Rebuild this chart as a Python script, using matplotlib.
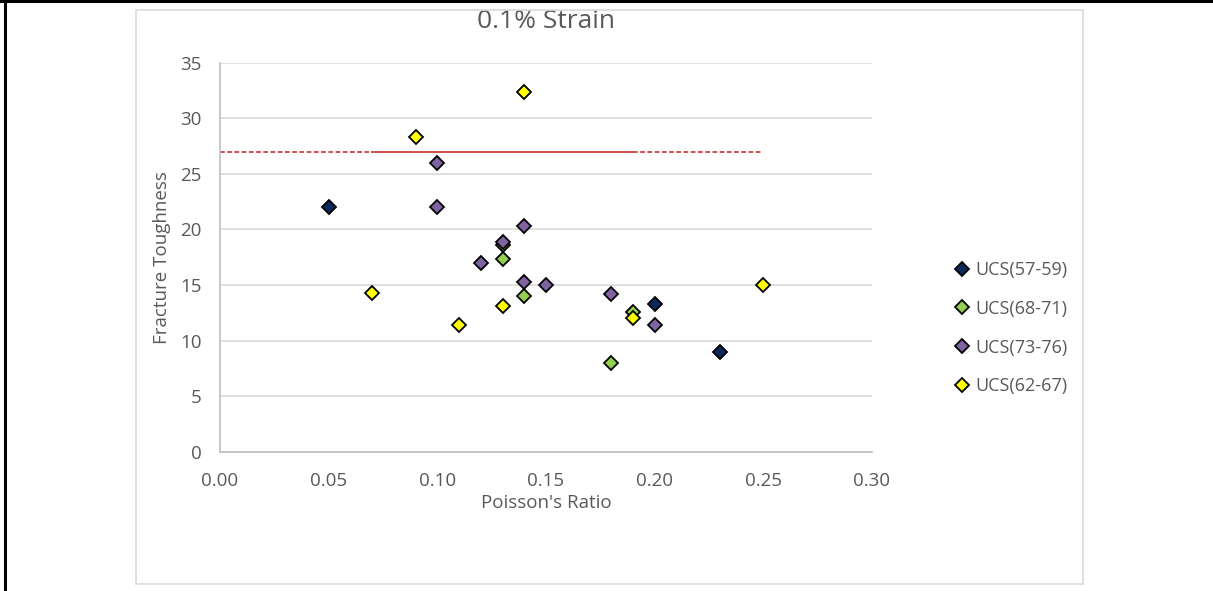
import matplotlib
matplotlib.use("Agg")
import matplotlib.pyplot as plt
from matplotlib.patches import Rectangle
from matplotlib.lines import Line2D

# Poisson's ratio / fracture toughness, grouped by UCS band
ucs_57_59_x = [0.05, 0.20, 0.23]
ucs_57_59_y = [22.0, 13.3, 9.0]

ucs_68_71_x = [0.13, 0.13, 0.14, 0.19, 0.18]
ucs_68_71_y = [18.6, 17.3, 14.0, 12.6, 8.0]

ucs_73_76_x = [0.10, 0.10, 0.14, 0.13, 0.12, 0.14, 0.15, 0.18, 0.20]
ucs_73_76_y = [26.0, 22.0, 20.3, 18.9, 17.0, 15.3, 15.0, 14.2, 11.4]

ucs_62_67_x = [0.09, 0.14, 0.07, 0.11, 0.13, 0.19, 0.25]
ucs_62_67_y = [28.3, 32.4, 14.3, 11.4, 13.1, 12.0, 15.0]

series_labels = ["UCS(57-59)", "UCS(68-71)", "UCS(73-76)", "UCS(62-67)"]
series_colors = ["#0B2A5C", "#92D050", "#8064A2", "#FFFF00"]

# Reference toughness level: solid over the core range, dashed beyond
ref_level = 27.0
ref_solid = [0.07, 0.19]
ref_dash_left = [0.0, 0.07]
ref_dash_right = [0.19, 0.25]

x_ticks = [0.00, 0.05, 0.10, 0.15, 0.20, 0.25, 0.30]
y_ticks = [0, 5, 10, 15, 20, 25, 30, 35]

plt.rcParams["font.family"] = ["Open Sans", "DejaVu Sans"]
text_gray = "#595959"

W, H = 1213, 591
fig = plt.figure(figsize=(W / 100, H / 100), dpi=100)

# Outer frame (top and left) and chart-area border
fig.add_artist(Line2D([0.0, 1.0], [0.998, 0.998], transform=fig.transFigure,
                      color="black", lw=2.2))
fig.add_artist(Line2D([5 / W, 5 / W], [0.0, 1.0], transform=fig.transFigure,
                      color="black", lw=2.2))
fig.add_artist(Rectangle((136 / W, (H - 584) / H), (1083 - 136) / W,
                         (584 - 10) / H, transform=fig.transFigure,
                         fill=False, edgecolor="#D9D9D9", lw=1.2))

ax = fig.add_axes([220 / W, (H - 451.7) / H, 652 / W, 389 / H])

ax.set_xlim(0, 0.30)
ax.set_ylim(0, 35)
ax.set_xticks(x_ticks)
ax.set_xticklabels([f"{t:.2f}" for t in x_ticks])
ax.set_yticks(y_ticks)
ax.set_yticklabels([str(t) for t in y_ticks])

ax.grid(axis="y", color="#D9D9D9", lw=1.2)
ax.set_axisbelow(True)
for side in ("top", "right"):
    ax.spines[side].set_visible(False)
for side in ("left", "bottom"):
    ax.spines[side].set_color("#BFBFBF")
    ax.spines[side].set_linewidth(1.2)

ax.tick_params(axis="both", length=0, labelsize=13.5, colors=text_gray)
ax.tick_params(axis="y", pad=13)
ax.tick_params(axis="x", pad=14.5)

line_red = "#C8443F"
ax.plot(ref_solid, [ref_level, ref_level], color=line_red, lw=1.3, zorder=2)
ax.plot(ref_dash_left, [ref_level, ref_level], color=line_red, lw=1.3,
        ls=(0, (2.6, 1.4)), zorder=2)
ax.plot(ref_dash_right, [ref_level, ref_level], color=line_red, lw=1.3,
        ls=(0, (2.6, 1.4)), zorder=2)

all_x = [ucs_57_59_x, ucs_68_71_x, ucs_73_76_x, ucs_62_67_x]
all_y = [ucs_57_59_y, ucs_68_71_y, ucs_73_76_y, ucs_62_67_y]
for i, (xs, ys, lab, col) in enumerate(zip(all_x, all_y, series_labels, series_colors)):
    ax.plot(xs, ys, ls="none", marker="D", ms=7.3, mfc=col, mec="black",
            mew=1.3, label=lab, zorder=3 + i)

ax.text(0.5, (451.7 - 21) / 389, "0.1% Strain", transform=ax.transAxes,
        ha="center", va="center", fontsize=19, color=text_gray)
ax.set_xlabel("Poisson's Ratio", fontsize=13.5, color=text_gray, labelpad=3)
ax.set_ylabel("Fracture Toughness", fontsize=13.5, color=text_gray, labelpad=7)

leg = ax.legend(loc="upper left", bbox_to_anchor=(946 / W, (H - 252) / H),
                bbox_transform=fig.transFigure, frameon=False, fontsize=13,
                handlelength=0.8, handletextpad=0.35, labelspacing=1.15,
                borderpad=0)
for t in leg.get_texts():
    t.set_color(text_gray)

fig.savefig("out.png", dpi=100)
